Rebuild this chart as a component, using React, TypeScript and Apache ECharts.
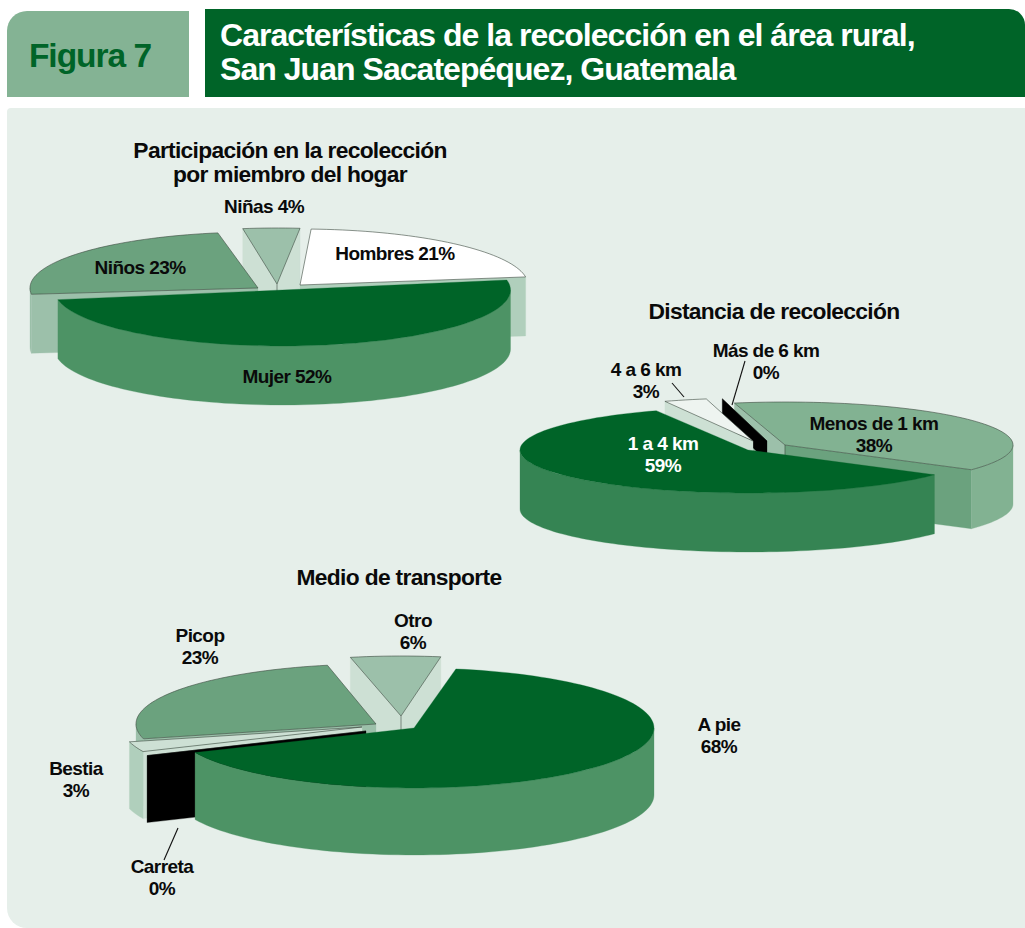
import React, { useEffect, useRef } from "react";
import * as echarts from "echarts";

// ---- Texts ----
const figureLabel = "Figura 7";
const figureTitle = "Características de la recolección en el área rural,\nSan Juan Sacatepéquez, Guatemala";
const memberTitle = "Participación en la recolección\npor miembro del hogar";
const distanceTitle = "Distancia de recolección";
const transportTitle = "Medio de transporte";

// ---- Data (clockwise order round each pie) ----
const memberNames = ["Mujer", "Niños", "Niñas", "Hombres"];
const memberValues = [52, 23, 4, 21];
const distanceNames = ["1 a 4 km", "4 a 6 km", "Más de 6 km", "Menos de 1 km"];
const distanceValues = [59, 3, 0, 38];
const transportNames = ["A pie", "Carreta", "Bestia", "Picop", "Otro"];
const transportValues = [68, 0, 3, 23, 6];

// ---- Colours ----
const DARK = "#006428";
const BG = "#e6efea";
const PALE = "#cde0d4";
const SOFT = "#9cc0aa";
const EDGE = "#b0cfbc";
const MID = "#6ba27e";
const LIGHT = "#82b292";
const WALL = "#4d9365";
const WALL2 = "#358453";
const LINE = "#3c4a40";

// ---- Layout of each exploded 3D pie ----
type SliceLook = {
  ax: number; ay: number; turn?: number; depth?: number;
  top: string; wall: string; startFace: string; endFace: string; outlined?: boolean;
};
type PieLook = { rx: number; ry: number; depth: number; start: number; warp: number; order: number[]; slices: SliceLook[] };

const memberPie: PieLook = {
  rx: 228, ry: 56, depth: 59, start: -13.6, warp: 3.6, order: [2, 1, 3, 0],
  slices: [
    { ax: 282.5, ay: 290, top: DARK, wall: WALL, startFace: WALL, endFace: WALL },
    { ax: 258, ay: 288, turn: 3.5, top: MID, wall: SOFT, startFace: SOFT, endFace: SOFT, outlined: true },
    { ax: 277, ay: 284, turn: 5, top: SOFT, wall: PALE, startFace: PALE, endFace: PALE, outlined: true },
    { ax: 300, ay: 285, turn: 2, top: "#ffffff", wall: EDGE, startFace: EDGE, endFace: EDGE, outlined: true },
  ],
};
const distancePie: PieLook = {
  rx: 228, ry: 43, depth: 59, start: 34, warp: 2, order: [3, 2, 1, 0],
  slices: [
    { ax: 748, ay: 450, top: DARK, wall: WALL2, startFace: WALL2, endFace: WALL2 },
    { ax: 753, ay: 441, turn: 1, top: "#eef4f0", wall: PALE, startFace: PALE, endFace: PALE, outlined: true },
    { ax: 767, ay: 441, turn: 1.5, depth: 20, top: "#000000", wall: "#000000", startFace: "#000000", endFace: "#000000" },
    { ax: 785, ay: 445, top: LIGHT, wall: LIGHT, startFace: SOFT, endFace: MID, outlined: true },
  ],
};
const transportPie: PieLook = {
  rx: 240, ry: 60, depth: 67, start: -80, warp: 10, order: [4, 3, 2, 1, 0],
  slices: [
    { ax: 414, ay: 728, top: DARK, wall: WALL, startFace: WALL, endFace: WALL },
    { ax: 366, ay: 731, top: "#000000", wall: "#000000", startFace: "#000000", endFace: "#000000" },
    { ax: 362, ay: 727, top: PALE, wall: EDGE, startFace: PALE, endFace: PALE, outlined: true },
    { ax: 376, ay: 724, top: MID, wall: SOFT, startFace: SOFT, endFace: SOFT, outlined: true },
    { ax: 401, ay: 716, turn: -0.5, top: SOFT, wall: PALE, startFace: PALE, endFace: PALE, outlined: true },
  ],
};

// Where each pie's labels sit: [centre x, centre y, colour]
const memberLabelSpots: [number, number, string][] = [
  [287, 376, "#0a0a0a"], [140, 267, "#0a0a0a"], [264, 206, "#0a0a0a"], [395, 253, "#0a0a0a"],
];
const distanceLabelSpots: [number, number, string][] = [
  [663, 454, "#ffffff"], [646, 380, "#0a0a0a"], [766, 361, "#0a0a0a"], [874, 434, "#0a0a0a"],
];
const transportLabelSpots: [number, number, string][] = [
  [719, 735, "#0a0a0a"], [162, 877, "#0a0a0a"], [76, 779, "#0a0a0a"], [200, 646, "#0a0a0a"], [413, 631, "#0a0a0a"],
];
const leaderLines = [
  [672, 383, 684, 397],
  [745, 361, 732, 405],
  [178, 828, 164, 860],
];

const FONT = '"Liberation Sans", Arial, sans-serif';
const rad = (d: number) => (d * Math.PI) / 180;

function pieSeries(values: number[], look: PieLook) {
  const total = values.reduce((a, b) => a + b, 0);
  const warp = (a: number) => a + look.warp * Math.pow(Math.cos(rad(a)), 3);
  let run = look.start;
  const spans = values.map((v, i) => {
    const a0 = run;
    run += (v / total) * 360;
    const turn = look.slices[i].turn ?? 0;
    return [warp(a0) + turn, warp(run) + turn];
  });

  const renderItem = (_params: any, api: any) => {
    const i = api.value(0) as number;
    const s = look.slices[i];
    const [t0, t1] = spans[i];
    const depth = s.depth ?? look.depth;
    const at = (t: number, dy = 0): number[] => [
      s.ax + look.rx * Math.cos(rad(t)),
      s.ay + look.ry * Math.sin(rad(t)) + dy,
    ];
    const arc = (a: number, b: number, dy = 0) => {
      const n = Math.max(1, Math.ceil(Math.abs(b - a) / 2));
      const pts: number[][] = [];
      for (let k = 0; k <= n; k++) pts.push(at(a + ((b - a) * k) / n, dy));
      return pts;
    };
    const apex = [s.ax, s.ay];
    const apexLow = [s.ax, s.ay + depth];
    const children: any[] = [];
    const poly = (points: number[][], fill: string, outlined = false) =>
      children.push({
        type: "polygon",
        silent: true,
        shape: { points },
        style: outlined ? { fill, stroke: LINE, lineWidth: 0.6 } : { fill, stroke: fill, lineWidth: 0.3 },
      });

    // Cut faces that look towards the viewer
    const startShown = Math.cos(rad(t0)) < 0;
    const endShown = Math.cos(rad(t1)) > 0;
    if (startShown) poly([at(t0), apex, apexLow, at(t0, depth)], s.startFace);
    if (endShown) poly([at(t1), apex, apexLow, at(t1, depth)], s.endFace);
    if (startShown && endShown && s.outlined) {
      children.push({
        type: "line",
        silent: true,
        shape: { x1: apex[0], y1: apex[1], x2: apexLow[0], y2: apexLow[1] },
        style: { stroke: LINE, lineWidth: 0.6 },
      });
    }
    // Outer wall, front half of the ellipse only
    for (const base of [-360, 0, 360]) {
      const a = Math.max(t0, base);
      const b = Math.min(t1, base + 180);
      if (b > a) poly([...arc(a, b), ...arc(b, a, depth)], s.wall);
    }
    // Top surface
    poly([apex, ...arc(t0, t1)], s.top, !!s.outlined);
    return { type: "group", children };
  };

  return {
    type: "custom",
    coordinateSystem: "none",
    silent: true,
    renderItem,
    data: look.order.map((i) => [i, values[i]]),
  };
}

function labelTexts(names: string[], values: number[], spots: [number, number, string][], sep: string) {
  return names.map((name, i) => ({
    type: "text",
    x: spots[i][0],
    y: spots[i][1],
    z: 100,
    silent: true,
    style: {
      text: `${name}${sep}${values[i]}%`,
      fill: spots[i][2],
      font: `bold 19px ${FONT}`,
      lineHeight: 22,
      align: "center",
      verticalAlign: "middle",
    },
  }));
}

export default function App() {
  const ref = useRef<HTMLDivElement>(null);
  useEffect(() => {
    document.body.style.margin = "0";
    document.body.style.background = "#ffffff";
    const chart = echarts.init(ref.current!, undefined, { renderer: "svg" });
    const pieTitle = { color: "#0a0a0a", fontFamily: FONT, fontWeight: "bold" as const, fontSize: 22.8, lineHeight: 24 };
    chart.setOption({
      animation: false,
      backgroundColor: "#ffffff",
      title: [
        { text: figureLabel, left: 90, top: 37, textAlign: "center", textStyle: { color: DARK, fontFamily: FONT, fontWeight: "bold", fontSize: 33.5, lineHeight: 36 }, padding: 0 },
        { text: figureTitle, left: 220, top: 18, textStyle: { color: "#ffffff", fontFamily: FONT, fontWeight: "bold", fontSize: 32, lineHeight: 34 }, padding: 0 },
        { text: memberTitle, left: 290, top: 138, textAlign: "center", textStyle: pieTitle, padding: 0 },
        { text: distanceTitle, left: 774, top: 299, textAlign: "center", textStyle: pieTitle, padding: 0 },
        { text: transportTitle, left: 399, top: 565, textAlign: "center", textStyle: pieTitle, padding: 0 },
      ],
      graphic: [
        { type: "rect", z: 0, silent: true, shape: { x: 7, y: 11, width: 182, height: 86, r: [20, 0, 0, 0] }, style: { fill: "#84b394" } },
        { type: "rect", z: 0, silent: true, shape: { x: 205, y: 9, width: 820, height: 88, r: [0, 16, 0, 0] }, style: { fill: DARK } },
        { type: "rect", z: 0, silent: true, shape: { x: 7, y: 108, width: 1018, height: 820, r: [4, 0, 0, 20] }, style: { fill: BG } },
        ...labelTexts(memberNames, memberValues, memberLabelSpots, " "),
        ...labelTexts(distanceNames, distanceValues, distanceLabelSpots, "\n"),
        ...labelTexts(transportNames, transportValues, transportLabelSpots, "\n"),
        ...leaderLines.map((l) => ({
          type: "line",
          z: 100,
          silent: true,
          shape: { x1: l[0], y1: l[1], x2: l[2], y2: l[3] },
          style: { stroke: "#111111", lineWidth: 1.1 },
        })),
      ],
      series: [
        pieSeries(memberValues, memberPie),
        pieSeries(distanceValues, distancePie),
        pieSeries(transportValues, transportPie),
      ],
    });
    return () => chart.dispose();
  }, []);
  return (
    <>
      <style>{"svg text { letter-spacing: -0.03em; }"}</style>
      <div ref={ref} style={{ position: "absolute", left: 0, top: 0, width: 1025, height: 928, overflow: "hidden" }} />
    </>
  );
}
